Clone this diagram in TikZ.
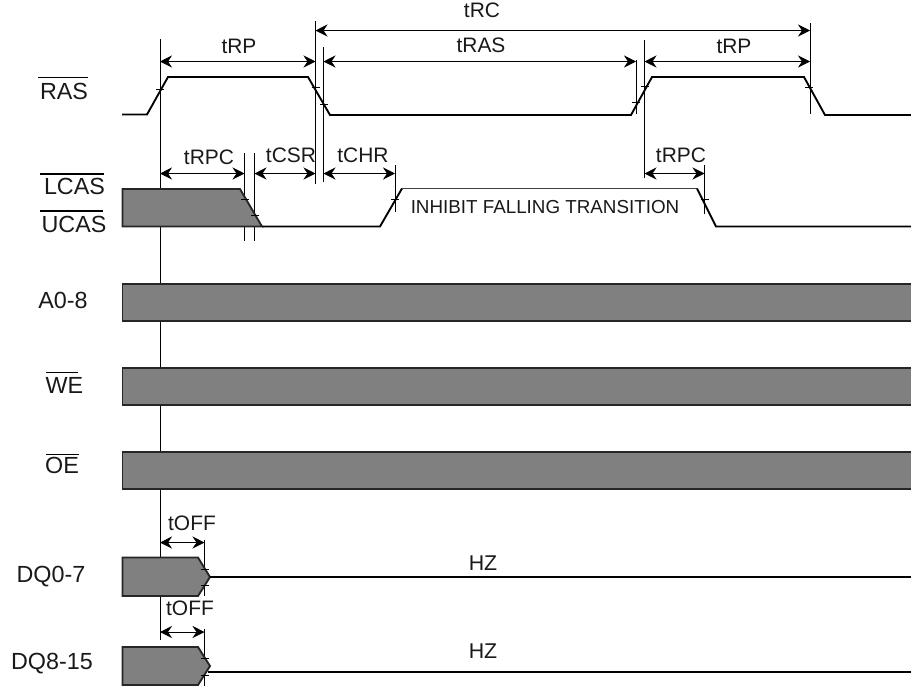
\documentclass[tikz,border=0pt]{standalone}
\usepackage{fontspec}
\setmainfont{Liberation Sans}
\usetikzlibrary{arrows.meta}
\definecolor{busgray}{RGB}{128,128,128}
\tikzset{
  wave/.style={line width=1.4pt},
  thinwave/.style={line width=0.9pt,draw=black!75},
  bus/.style={line width=1.4pt,draw=black!85,fill=busgray},
  guide/.style={line width=0.6pt},
  span/.style={line width=0.6pt,{Stealth[length=9pt,width=9pt,inset=3pt]}-{Stealth[length=9pt,width=9pt,inset=3pt]}},
  lbl/.style={inner sep=0pt,font=\fontsize{15.7}{16}\selectfont,text=black!90},
  sig/.style={inner sep=0pt,font=\fontsize{17.5}{18}\selectfont,text=black!90},
  small/.style={inner sep=0pt,font=\fontsize{14.1}{15}\selectfont,text=black!90},
  hz/.style={inner sep=0pt,font=\fontsize{16}{16}\selectfont,text=black!90}
}
\begin{document}
\begin{tikzpicture}[x=0.75pt,y=-0.75pt]
\useasboundingbox (0,0) rectangle (911,686);
% guide lines
\foreach \xx/\ya/\yb in {160/39/640,315.5/21/184,323.5/47/182,244.5/153/241,254.5/153/241,
    395/165/212,636/60/114,644.5/40/178,810/23/114,704.5/165/214,204.5/540/596,204.5/629/686}
  \draw[guide] (\xx,\ya) -- (\xx,\yb);
% signals
\draw[wave] (122,114.5) -- (147,114.5) -- (168,77) -- (308,77) -- (330,115) -- (631,115) -- (652,77)
  -- (804,77) -- (825,115) -- (912,115);
\draw[bus] (122.5,189) -- (240,189) -- (262,226.5) -- (122.5,226.5) -- cycle;
\draw[wave] (262,226.5) -- (380,226.5) -- (402,188.5);
\draw[thinwave] (402,188.5) -- (697,188.5);
\draw[wave] (697,188.5) -- (716,226.5) -- (912,226.5);
\foreach \ya/\yb in {284/321,368/405,452/489}
  \draw[bus] (122.5,\ya) rectangle (915,\yb);
\draw[bus] (122.5,557.5) -- (198,557.5) -- (210,577) -- (198,596) -- (122.5,596) -- cycle;
\draw[wave] (210,577) -- (912,577);
\draw[bus] (122.5,647) -- (198,647) -- (210,666) -- (198,685) -- (122.5,685) -- cycle;
\draw[wave] (208,672) -- (912,672);
% crossing marks
\foreach \xx/\yy in {160/89,315.5/87,323.5/104,245/199,255/215,395/199,704.5/199,636/102,645/86,
    809/87,204.5/569,204.5/585,204.5/658,204.5/675}
  \draw[guide] (\xx-4,\yy) -- (\xx+4,\yy);
% timing arrows
\foreach \name/\xa/\xb/\yy in {rc/315.5/810/30.5,rpl/160/315.5/61.5,ras/323.5/636/61.5,rpr/644.5/810/61.5,
    rpca/160/244.5/173.5,csr/254.5/315.5/173.5,chr/323.5/395/173.5,rpcb/644.5/704.5/173.5,
    offa/160/204.5/542.5,offb/160/204.5/632}{
  \coordinate (\name a) at (\xa,\yy);
  \coordinate (\name b) at (\xb,\yy);
  \draw[span] (\name a) -- (\name b);
}
% timing labels
\node[lbl] (trc) at (482,10) {tRC};
\node[lbl] (trpl) at (239,46) {tRP};
\node[lbl] (tras) at (481,45) {tRAS};
\node[lbl] (trpr) at (734,46) {tRP};
\node[lbl] (trpca) at (209,157) {tRPC};
\node[lbl] (tcsr) at (291,155) {tCSR};
\node[lbl] (tchr) at (363,155) {tCHR};
\node[lbl] (trpcb) at (681,155) {tRPC};
\node[lbl] (toffa) at (192,523) {tOFF};
\node[lbl] (toffb) at (190,608) {tOFF};
\node[small] (inhibit) at (545,207) {INHIBIT FALLING TRANSITION};
\node[hz] (hza) at (483,563) {HZ};
\node[hz] (hzb) at (483,651) {HZ};
% signal names
\node[sig] (ras) at (64,91) {RAS};
\node[sig] (lcas) at (74.5,186) {LCAS};
\node[sig] (ucas) at (74,224) {UCAS};
\node[sig] (addr) at (63,300) {A0-8};
\node[sig] (we) at (64.5,385.5) {WE};
\node[sig] (oe) at (62,465.5) {OE};
\node[sig] (dqa) at (51,577) {DQ0-7};
\node[sig] (dqb) at (52,664) {DQ8-15};
% active low bars
\foreach \xa/\xb/\yy in {38/88/77.5,40/104/174,40/103/211,46/78/372.7,46/79/454.7}
  \draw[line width=0.8pt] (\xa,\yy) -- (\xb,\yy);
\end{tikzpicture}
\end{document}
